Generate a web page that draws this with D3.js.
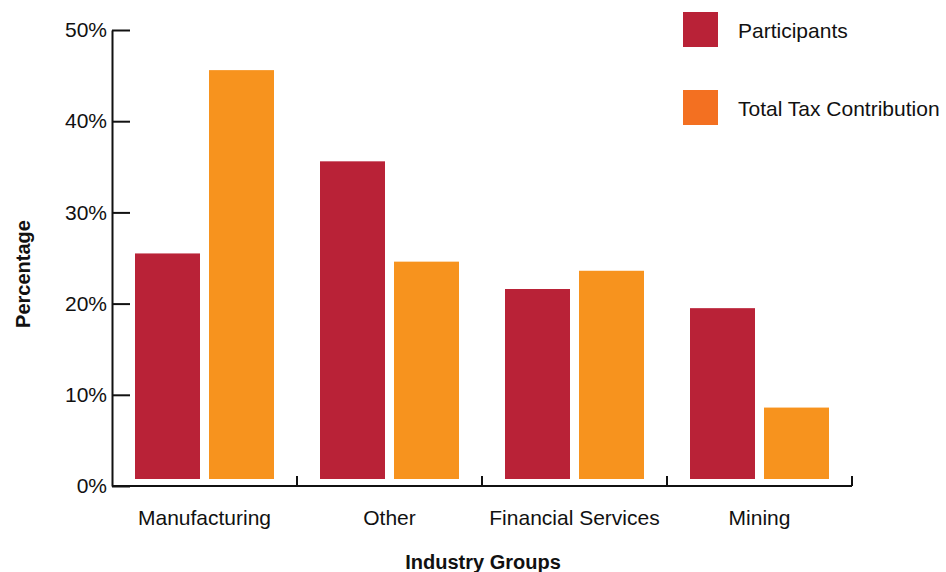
<!DOCTYPE html>
<html>
<head>
<meta charset="utf-8">
<script src="https://cdn.jsdelivr.net/npm/d3@7"></script>
<style>
  body { margin: 0; background: #fff; }
  svg text { font-family: "Liberation Sans", Arial, sans-serif; fill: #111; }
</style>
</head>
<body>
<div id="chart"></div>
<script>
var categories = ["Manufacturing", "Other", "Financial Services", "Mining"];
var seriesNames = ["Participants", "Total Tax Contribution"];
var participants = [0.255, 0.356, 0.216, 0.195];
var taxContribution = [0.456, 0.246, 0.236, 0.086];
var yTicks = [0, 0.1, 0.2, 0.3, 0.4, 0.5];

var width = 946, height = 572;
var barColors = ["#b92237", "#f7931e"];
var legendColors = ["#b92237", "#f37021"];

var svg = d3.select("#chart").append("svg")
  .attr("width", width)
  .attr("height", height);

var x0 = d3.scaleBand()
  .domain(categories)
  .range([112, 852]);

var x1 = d3.scaleBand()
  .domain(seriesNames)
  .range([23, x0.bandwidth() - 23])
  .paddingInner(0.1216);

var y = d3.scaleLinear()
  .domain([0, 0.5])
  .range([486, 30]);

var baseGap = 7;

// bars
var groups = svg.selectAll(".group")
  .data(categories)
  .enter().append("g")
  .attr("class", "group")
  .attr("transform", function (d) { return "translate(" + x0(d) + ",0)"; });

groups.selectAll("rect")
  .data(function (d, i) {
    return [
      { key: seriesNames[0], value: participants[i] },
      { key: seriesNames[1], value: taxContribution[i] }
    ];
  })
  .enter().append("rect")
  .attr("x", function (d) { return x1(d.key); })
  .attr("y", function (d) { return y(d.value); })
  .attr("width", x1.bandwidth())
  .attr("height", function (d) { return y(0) - baseGap - y(d.value); })
  .attr("fill", function (d, i) { return barColors[i]; });

// y axis
var yAxis = svg.append("g")
  .attr("transform", "translate(112,0)")
  .call(d3.axisLeft(y)
    .tickValues(yTicks)
    .tickFormat(d3.format(".0%"))
    .tickSize(-18)
    .tickSizeOuter(0)
    .tickPadding(5));

yAxis.selectAll("line").attr("stroke", "#111").attr("stroke-width", 2);
yAxis.select(".domain").attr("stroke", "#111").attr("stroke-width", 2);
yAxis.selectAll("text").style("font-size", "21px").attr("fill", "#111");

// x axis
var xAxis = svg.append("g");
xAxis.append("line")
  .attr("x1", x0.range()[0])
  .attr("x2", x0.range()[1])
  .attr("y1", y(0))
  .attr("y2", y(0))
  .attr("stroke", "#111")
  .attr("stroke-width", 2);

xAxis.selectAll(".xtick")
  .data(categories)
  .enter().append("line")
  .attr("class", "xtick")
  .attr("x1", function (d) { return x0(d) + x0.bandwidth(); })
  .attr("x2", function (d) { return x0(d) + x0.bandwidth(); })
  .attr("y1", y(0))
  .attr("y2", y(0) - 10)
  .attr("stroke", "#111")
  .attr("stroke-width", 2);

xAxis.selectAll(".xlabel")
  .data(categories)
  .enter().append("text")
  .attr("class", "xlabel")
  .attr("x", function (d) { return x0(d) + x0.bandwidth() / 2; })
  .attr("y", 525)
  .attr("text-anchor", "middle")
  .style("font-size", "21px")
  .text(function (d) { return d; });

// axis titles
svg.append("text")
  .attr("x", 483)
  .attr("y", 569)
  .attr("text-anchor", "middle")
  .style("font-size", "20px")
  .style("font-weight", "bold")
  .text("Industry Groups");

svg.append("text")
  .attr("transform", "translate(30,274) rotate(-90)")
  .attr("text-anchor", "middle")
  .style("font-size", "20px")
  .style("font-weight", "bold")
  .text("Percentage");

// legend
var legend = svg.selectAll(".legend")
  .data(seriesNames)
  .enter().append("g")
  .attr("class", "legend")
  .attr("transform", function (d, i) { return "translate(683," + (12 + i * 78) + ")"; });

legend.append("rect")
  .attr("width", 35)
  .attr("height", 35)
  .attr("fill", function (d, i) { return legendColors[i]; });

legend.append("text")
  .attr("x", 55)
  .attr("y", 26)
  .style("font-size", "21px")
  .text(function (d) { return d; });
</script>
</body>
</html>
